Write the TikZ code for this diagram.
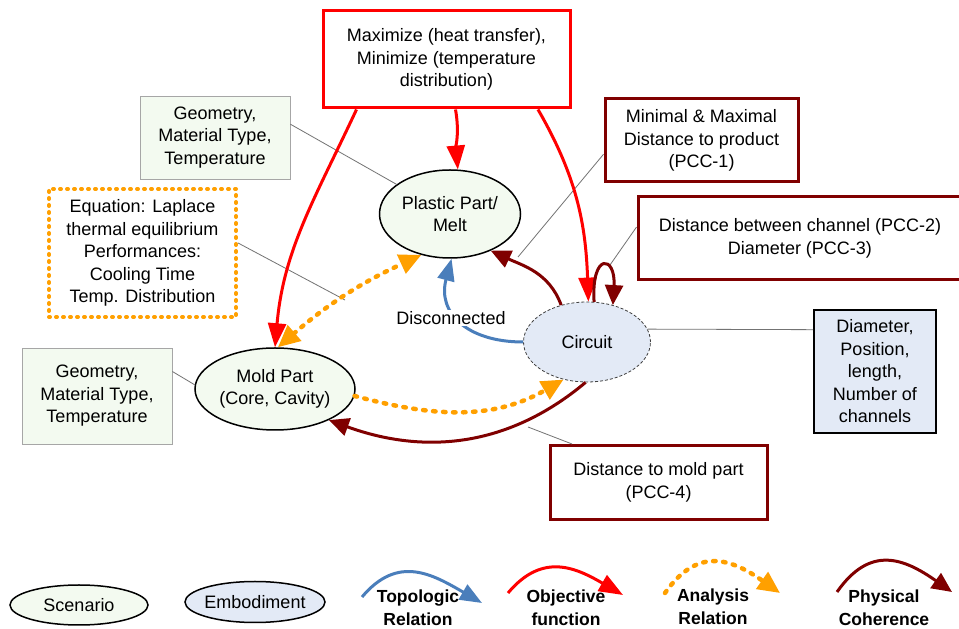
\documentclass[tikz,border=0pt]{standalone}
\usepackage{fontspec}
\setmainfont{Liberation Sans}
\usetikzlibrary{arrows.meta,shapes.geometric}
\definecolor{objred}{RGB}{255,0,0}
\definecolor{phys}{RGB}{128,0,0}
\definecolor{anal}{RGB}{255,160,0}
\definecolor{topo}{RGB}{74,126,187}
\definecolor{scenfill}{RGB}{243,250,240}
\definecolor{embfill}{RGB}{227,234,246}
\tikzset{
 base/.style={font=\fontsize{18}{22.5}\selectfont, align=center, inner sep=0pt, rectangle},
 sz/.style 2 args={minimum width=#1pt, minimum height=#2pt},
 objbox/.style={base, draw=objred, line width=3pt},
 physbox/.style={base, draw=phys, line width=3pt},
 attrbox/.style={base, draw=black!35, fill=scenfill, line width=0.8pt},
 embbox/.style={base, draw=black, fill=embfill, line width=2pt},
 anbox/.style={base, draw=anal, line width=4pt, dash pattern=on 1pt off 6pt, line cap=round},
 scen/.style={base, ellipse, inner sep=-10pt, draw=black, line width=1.5pt, fill=scenfill},
 emb/.style={base, ellipse, inner sep=-10pt, draw=black!75, line width=0.8pt, densely dashed, fill=embfill},
 legemb/.style={base, ellipse, inner sep=-10pt, draw=black, line width=1.5pt, fill=embfill},
 objarrow/.style={draw=objred, line width=3pt, -{Triangle[length=24pt,width=18pt]}},
 physarrow/.style={draw=phys, line width=3pt, -{Triangle[length=20pt,width=18pt]}},
 anarrow/.style={draw=anal, line width=4.5pt, dash pattern=on 2.5pt off 7.5pt, line cap=round, -{Triangle[length=22pt,width=20pt]}},
 topoarrow/.style={draw=topo, line width=3pt, -{Triangle[length=22pt,width=17pt]}},
 note/.style={draw=black!55, line width=0.8pt},
 legtext/.style={font=\fontsize{17.5}{23}\selectfont\bfseries, align=center, inner sep=0pt},
 disclabel/.style={base, fill=white, inner sep=1pt},
}
\begin{document}
\begin{tikzpicture}[x=1pt,y=1pt]
\fill[white] (0,0) rectangle (959,629);
\useasboundingbox (0,0) rectangle (959,629);

% main nodes
\node[objbox, sz={247}{97}] (obj) at (446.5,569.5) {Maximize (heat transfer),\\Minimize (temperature\\distribution)};
\node[attrbox, sz={150}{83}] (geoT) at (215,491.5) {Geometry,\\Material Type,\\Temperature};
\node[anbox, sz={187}{128}] (eq) at (142.5,376) {Equation: Laplace\\thermal equilibrium\\Performances:\\Cooling Time\\Temp. Distribution};
\node[scen, sz={141}{88}] (pp) at (450,415) {Plastic Part/\\Melt};
\node[emb, sz={127}{80}] (circ) at (587,287) {Circuit};
\node[scen, sz={160}{82}] (mold) at (275,240) {Mold Part\\(Core, Cavity)};
\node[attrbox, sz={150}{96}] (geoB) at (97,233) {Geometry,\\Material Type,\\Temperature};
\node[physbox, sz={193}{83}] (minb) at (701.5,488.5) {Minimal \& Maximal\\Distance to product\\(PCC-1)};
\node[physbox, sz={324}{83}] (distch) at (800,390.5) {Distance between channel (PCC-2)\\Diameter (PCC-3)};
\node[embbox, sz={122}{123}] (diam) at (875,257.5) {Diameter,\\Position,\\length,\\Number of\\channels};
\node[physbox, sz={217}{74}] (distm) at (658.5,146.5) {Distance to mold part\\(PCC-4)};

% free ends of note lines
\coordinate (eqtip) at (345,329);
\coordinate (mintip) at (518,372);
\coordinate (dctip) at (610,364);
\coordinate (dmtip) at (528,202);

% note lines
\draw[note] (geoT.10) -- (pp.151);
\draw[note] (eq.6) -- (eqtip);
\draw[note] (minb.188) -- (mintip);
\draw[note] (distch.176) -- (dctip);
\draw[note] (circ.12) -- (diam.146);
\draw[note] (geoB.18) -- (mold.177);
\draw[note] (distm.156) -- (dmtip);

% objective function arrows
\draw[objarrow] ([xshift=-90pt]obj.south) to[out=-115,in=85] (mold.north);
\draw[objarrow] ([xshift=9pt]obj.south) to[out=-80,in=95] (pp.80);
\draw[objarrow] ([xshift=91.5pt]obj.south) to[out=-60,in=92] (circ.88);

% physical coherence arrows
\draw[physarrow] (circ.125) to[out=110,in=-25] (pp.-42);
\draw[physarrow] (circ.-92) to[out=-140,in=-20] (mold.-30);
\draw[physarrow] (circ.80) .. controls +(-3,50) and +(3,50) .. (circ.55);

% analysis relations
\draw[anarrow, {Triangle[length=22pt,width=20pt]}-{Triangle[length=22pt,width=20pt]}] (mold.86) to[bend left=8] (pp.-125);
\draw[anarrow] (mold.-5) to[out=-15,in=-150] (circ.-122);

% topologic relation
\draw[topoarrow] (circ.west) to[out=180,in=-105,looseness=1.3] (pp.-88);
\node[disclabel] (disc) at (451,311) {Disconnected};

% legend
\node[scen, sz={138}{40}] (lscen) at (79,24) {Scenario};
\node[legemb, sz={140}{41}] (lemb) at (255,27) {Embodiment};
\node[legtext] (ltopo) at (418,21.5) {Topologic\\Relation};
\node[legtext] (lobj) at (566,21.5) {Objective\\function};
\node[legtext] (lan) at (713,22.5) {Analysis\\Relation};
\node[legtext] (lphys) at (884,21.5) {Physical\\Coherence};

\coordinate (t1) at (362,32); \coordinate (t2) at (482,26);
\coordinate (o1) at (508,36); \coordinate (o2) at (623,34);
\coordinate (a1) at (665,36); \coordinate (a2) at (780,36);
\coordinate (p1) at (837,37); \coordinate (p2) at (952,37);
\draw[topoarrow] (t1) to[out=50,in=150,looseness=1.2] (t2);
\draw[objarrow] (o1) to[out=50,in=150,looseness=1.2] (o2);
\draw[anarrow] (a1) to[out=55,in=145,looseness=1.3] (a2);
\draw[physarrow] (p1) to[out=55,in=145,looseness=1.3] (p2);
\end{tikzpicture}
\end{document}
